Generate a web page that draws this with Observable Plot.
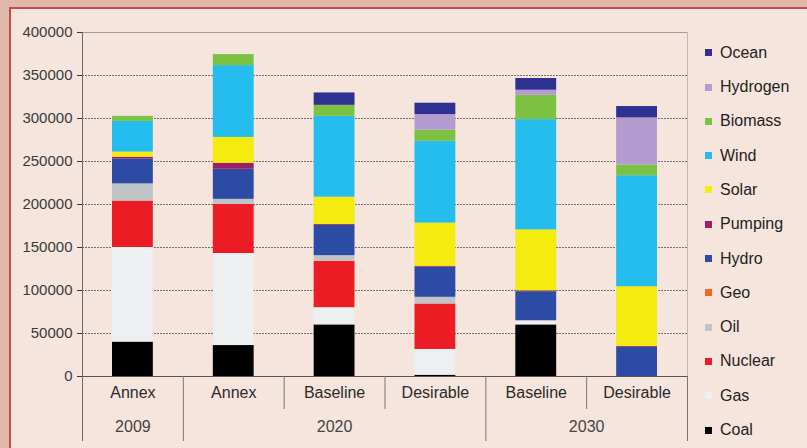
<!DOCTYPE html>
<html>
<head>
<meta charset="utf-8">
<script src="https://cdn.jsdelivr.net/npm/d3@7"></script>
<script src="https://cdn.jsdelivr.net/npm/@observablehq/plot@0.6"></script>
<style>
  html, body { margin: 0; padding: 0; }
  body { width: 807px; height: 448px; overflow: hidden; position: relative; background: #dfb8aa; font-family: "Liberation Sans", Arial, sans-serif; }
  #panel { position: absolute; left: 9px; top: 7px; right: 0; bottom: 0; background: #f5e5dd; border-left: 2px solid #c84a50; border-top: 2px solid #c84a50; }
  #chart { position: absolute; left: 0; top: 0; }
  #legend { position: absolute; left: 0; top: 0; }
  .lg { position: absolute; height: 20px; line-height: 20px; font-size: 16px; color: #222; white-space: nowrap; }
  .sw { position: absolute; width: 7px; height: 7px; }
</style>
</head>
<body>
<div id="panel"></div>
<div id="chart"></div>
<div id="legend"></div>
<script>
// Categories (bars)
const scenarios = ["Annex", "Annex", "Baseline", "Desirable", "Baseline", "Desirable"];
const years = ["2009", "2020", "2020", "2020", "2030", "2030"];

// Fuel series (stack order: bottom to top)
const fuels = ["Coal", "Gas", "Nuclear", "Oil", "Geo", "Hydro", "Pumping", "Solar", "Wind", "Biomass", "Hydrogen", "Ocean"];
const colors = ["#000000", "#edf0f1", "#ec1c24", "#bfc4c9", "#f26522", "#2c4ba5", "#9e1f63", "#f3ec0c", "#25bdee", "#7dc142", "#b49bd0", "#2e3192"];

// Series values, one per bar
const coal     = [40000, 36000, 60000, 1500, 60000, 0];
const gas      = [110000, 107000, 20000, 30000, 4800, 0];
const nuclear  = [54000, 57000, 54000, 52800, 0, 0];
const oil      = [20000, 6000, 6500, 7800, 0, 0];
const geo      = [0, 0, 0, 0, 0, 0];
const hydro    = [29000, 35000, 35200, 35000, 33800, 34000];
const pumping  = [2000, 7000, 1000, 1000, 1000, 1000];
const solar    = [6000, 30000, 31800, 50300, 70900, 69400];
const wind     = [35600, 83500, 94000, 95100, 128200, 129100];
const biomass  = [5900, 12800, 12800, 12900, 28300, 12400];
const hydrogen = [0, 0, 0, 18200, 5900, 54800];
const ocean    = [0, 0, 14400, 13200, 13600, 13200];

const yTicks = [0, 50000, 100000, 150000, 200000, 250000, 300000, 350000, 400000];

const series = [coal, gas, nuclear, oil, geo, hydro, pumping, solar, wind, biomass, hydrogen, ocean];
const rows = [];
fuels.forEach((f, k) => series[k].forEach((v, i) => { if (v > 0) rows.push({fuel: f, i0: i, i1: i + 1, value: v}); }));

const barLabels = scenarios.map((s, i) => ({label: s, xc: i + 0.5}));
const yearLabels = Array.from(d3.group(years.map((y, i) => ({y, i})), d => d.y), ([y, arr]) => ({label: y, xc: d3.mean(arr, d => d.i + 0.5)}));
const bounds = d3.range(scenarios.length + 1);
const longBounds = bounds.filter(k => k === 0 || k === scenarios.length || years[k - 1] !== years[k]);
const shortBounds = bounds.filter(k => !longBounds.includes(k));

const frameH = 448 - 32 - 72;

const chart = Plot.plot({
  width: 807,
  height: 448,
  marginLeft: 82,
  marginRight: 120,
  marginTop: 32,
  marginBottom: 72,
  style: {background: "transparent", fontFamily: "'Liberation Sans', Arial, sans-serif", fontSize: "15px", color: "#3a3a3a", overflow: "visible"},
  x: {domain: [0, scenarios.length], axis: null},
  y: {domain: [0, 400000], ticks: yTicks, tickFormat: "d", tickSize: 5, tickPadding: 5, label: null},
  color: {domain: fuels, range: colors},
  marks: [
    Plot.ruleY(yTicks.filter(d => d > 0 && d < 400000), {stroke: "#7a6f6c", strokeDasharray: "2,1", strokeWidth: 1}),
    Plot.ruleY([400000], {stroke: "#a49a97"}),
    Plot.ruleX([scenarios.length], {stroke: "#c2b8b4"}),
    Plot.rectY(rows, {x1: "i0", x2: "i1", y: "value", fill: "fuel", order: fuels, insetLeft: 30, insetRight: 30}),
    Plot.ruleY([0], {stroke: "#555"}),
    Plot.ruleX(longBounds, {stroke: "#777", insetTop: frameH, insetBottom: -65}),
    Plot.ruleX(shortBounds, {stroke: "#777", insetTop: frameH, insetBottom: -33}),
    Plot.ruleX([0], {stroke: "#6f6a69", insetBottom: -65}),
    Plot.text(barLabels, {x: "xc", text: "label", frameAnchor: "bottom", dy: 21, fontSize: 16, fill: "#2a2a2a"}),
    Plot.text(yearLabels, {x: "xc", text: "label", frameAnchor: "bottom", dy: 55, fontSize: 16, fill: "#444"})
  ]
});
document.getElementById("chart").appendChild(chart);

// Legend (top to bottom: reverse stack order)
const legend = document.getElementById("legend");
fuels.slice().reverse().forEach((f, k) => {
  const c = colors[fuels.indexOf(f)];
  const cy = 52.7 + 34.3 * k;
  const sw = document.createElement("div");
  sw.className = "sw";
  sw.style.left = "705px";
  sw.style.top = (cy - 3.5) + "px";
  sw.style.background = c;
  legend.appendChild(sw);
  const t = document.createElement("div");
  t.className = "lg";
  t.style.left = "720px";
  t.style.top = (cy - 10) + "px";
  t.textContent = f;
  legend.appendChild(t);
});
</script>
</body>
</html>
